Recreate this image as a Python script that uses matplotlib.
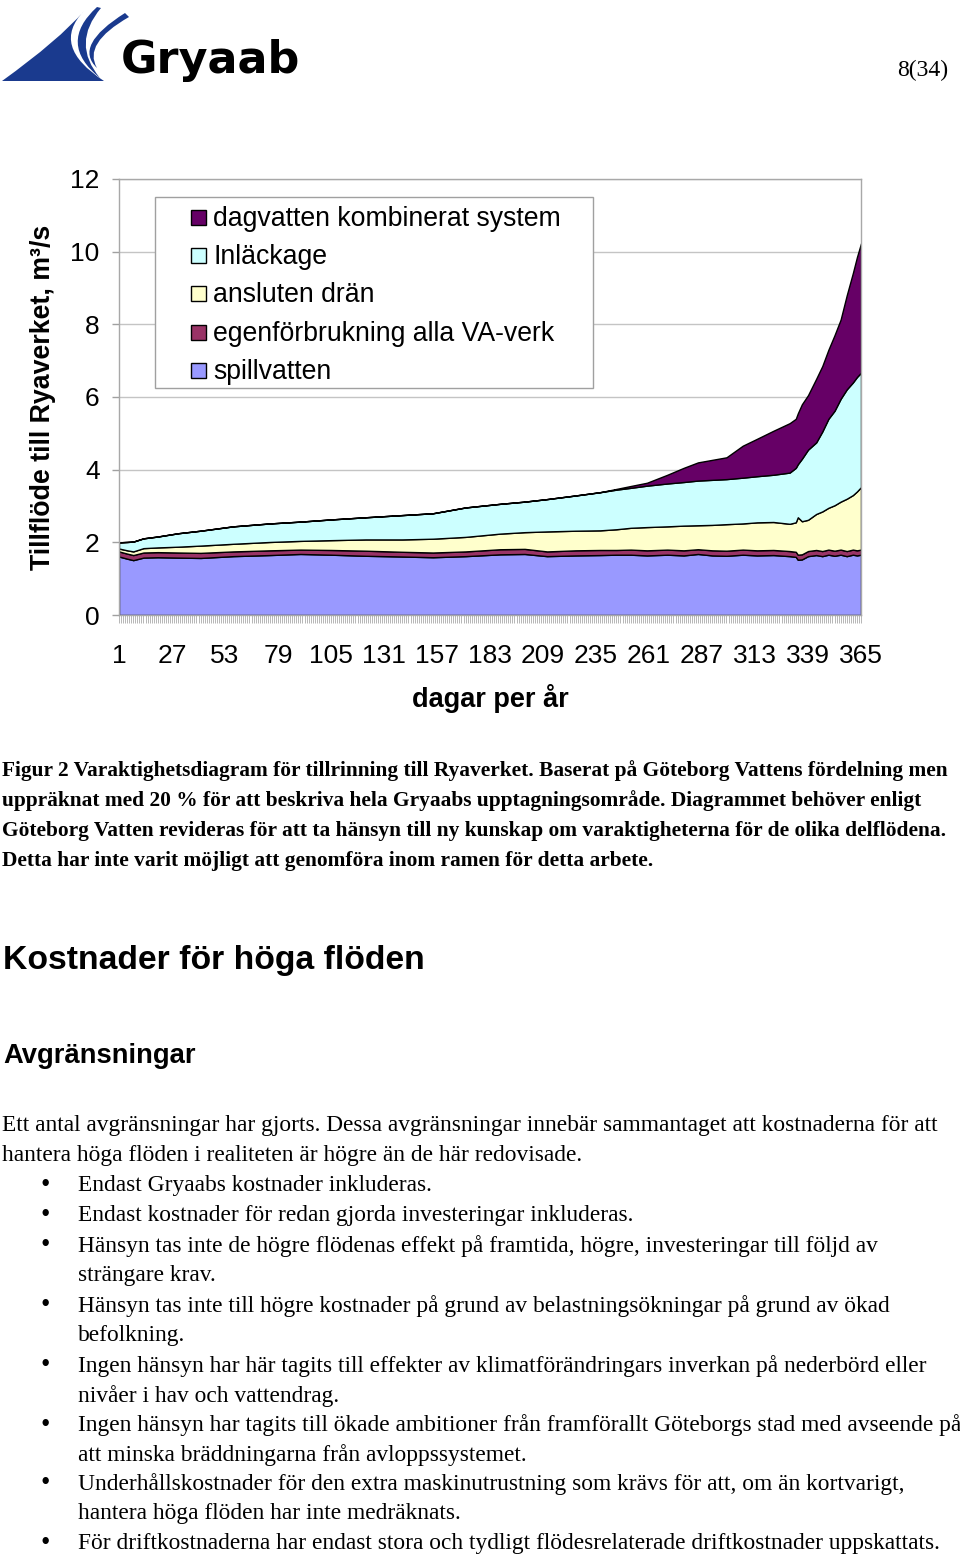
import matplotlib
matplotlib.use('Agg')
import matplotlib.pyplot as plt
from matplotlib.patches import Rectangle, PathPatch
from matplotlib.path import Path

# ---------------- data ----------------
days = [1, 5, 8, 13, 20, 30, 41, 57, 75, 90, 105, 122, 140, 155, 171, 188, 200,
        211, 225, 237, 245, 252, 260, 270, 278, 285, 292, 299, 307, 314, 322, 330,
        333, 334, 336, 339, 343, 346, 349, 352, 355, 358, 361, 363, 365]
spillvatten = [1.61, 1.55, 1.51, 1.58, 1.59, 1.58, 1.57, 1.62, 1.65, 1.68, 1.66, 1.63, 1.61,
               1.59, 1.62, 1.67, 1.68, 1.62, 1.64, 1.65, 1.66, 1.66, 1.64, 1.66, 1.64, 1.68,
               1.64, 1.63, 1.66, 1.64, 1.65, 1.62, 1.60, 1.52, 1.53, 1.62, 1.65, 1.62, 1.66,
               1.63, 1.66, 1.62, 1.66, 1.64, 1.66]
egenforbrukning = [0.14, 0.14, 0.14, 0.14, 0.14, 0.14, 0.14, 0.13, 0.13, 0.12, 0.13, 0.14, 0.13,
                   0.13, 0.13, 0.14, 0.14, 0.13, 0.14, 0.14, 0.13, 0.14, 0.14, 0.14, 0.14, 0.13,
                   0.14, 0.14, 0.14, 0.14, 0.14, 0.14, 0.14, 0.14, 0.14, 0.14, 0.14, 0.14, 0.14,
                   0.14, 0.14, 0.14, 0.14, 0.14, 0.14]
ansluten_dran = [0.08, 0.09, 0.10, 0.12, 0.13, 0.16, 0.20, 0.21, 0.23, 0.24, 0.27, 0.31, 0.34,
                 0.38, 0.40, 0.43, 0.46, 0.55, 0.54, 0.54, 0.57, 0.60, 0.64, 0.64, 0.68, 0.66,
                 0.70, 0.73, 0.72, 0.77, 0.77, 0.75, 0.81, 1.03, 0.91, 0.86, 0.99, 1.09, 1.15,
                 1.25, 1.32, 1.44, 1.50, 1.62, 1.72]
inlackage = [0.17, 0.23, 0.27, 0.27, 0.30, 0.37, 0.41, 0.48, 0.51, 0.53, 0.57, 0.61, 0.67,
             0.70, 0.81, 0.82, 0.84, 0.89, 0.97, 1.05, 1.09, 1.10, 1.14, 1.18, 1.20, 1.23,
             1.24, 1.24, 1.26, 1.27, 1.30, 1.41, 1.50, 1.46, 1.72, 1.93, 1.97, 2.20, 2.45,
             2.60, 2.83, 3.01, 3.10, 3.15, 3.15]
dagvatten = [0, 0, 0, 0, 0, 0, 0, 0, 0, 0, 0, 0, 0, 0, 0, 0, 0, 0, 0, 0,
             0.02, 0.05, 0.08, 0.24, 0.39, 0.50, 0.55, 0.60, 0.88, 1.03, 1.21, 1.36,
             1.35, 1.40, 1.50, 1.50, 1.75, 1.80, 1.90, 2.08, 2.18, 2.59, 3.01, 3.30, 3.56]

series_names = ['spillvatten', 'egenförbrukning alla VA-verk', 'ansluten drän',
                'Inläckage', 'dagvatten kombinerat system']
series_colors = ['#9999FF', '#993366', '#FFFFCC', '#CCFFFF', '#660066']
y_ticks = [0, 2, 4, 6, 8, 10, 12]
x_ticks = list(range(1, 366, 26))
y_label = 'Tillflöde till Ryaverket, m³/s'
x_label = 'dagar per år'

caption_lines = [
    'Figur 2 Varaktighetsdiagram för tillrinning till Ryaverket. Baserat på Göteborg Vattens fördelning men',
    'uppräknat med 20 % för att beskriva hela Gryaabs upptagningsområde. Diagrammet behöver enligt',
    'Göteborg Vatten revideras för att ta hänsyn till ny kunskap om varaktigheterna för de olika delflödena.',
    'Detta har inte varit möjligt att genomföra inom ramen för detta arbete.',
]
heading1 = 'Kostnader för höga flöden'
heading2 = 'Avgränsningar'
# (bullet?, text)
body_lines = [
    (False, 'Ett antal avgränsningar har gjorts. Dessa avgränsningar innebär sammantaget att kostnaderna för att'),
    (False, 'hantera höga flöden i realiteten är högre än de här redovisade.'),
    (True, 'Endast Gryaabs kostnader inkluderas.'),
    (True, 'Endast kostnader för redan gjorda investeringar inkluderas.'),
    (True, 'Hänsyn tas inte de högre flödenas effekt på framtida, högre, investeringar till följd av'),
    (None, 'strängare krav.'),
    (True, 'Hänsyn tas inte till högre kostnader på grund av belastningsökningar på grund av ökad'),
    (None, 'befolkning.'),
    (True, 'Ingen hänsyn har här tagits till effekter av klimatförändringars inverkan på nederbörd eller'),
    (None, 'nivåer i hav och vattendrag.'),
    (True, 'Ingen hänsyn har tagits till ökade ambitioner från framförallt Göteborgs stad med avseende på'),
    (None, 'att minska bräddningarna från avloppssystemet.'),
    (True, 'Underhållskostnader för den extra maskinutrustning som krävs för att, om än kortvarigt,'),
    (None, 'hantera höga flöden har inte medräknats.'),
    (True, 'För driftkostnaderna har endast stora och tydligt flödesrelaterade driftkostnader uppskattats.'),
]
page_no = '8(34)'
logo_text = 'Gryaab'

# ---------------- figure ----------------
W, H = 960, 1555
fig = plt.figure(figsize=(W / 100, H / 100), dpi=100)
fig.patch.set_facecolor('white')
renderer = fig.canvas.get_renderer()
SANS = 'Liberation Sans'
SERIF = 'Liberation Serif'


def fx(x):
    return x / W


def fy(y):
    return 1 - y / H


def size_for(s, target, family, weight='normal', rotation=0):
    t = fig.text(0, 0, s, family=family, weight=weight, fontsize=20, rotation=rotation)
    bb = t.get_window_extent(renderer)
    t.remove()
    span = bb.height if rotation else bb.width
    return 20 * target / span


# ---------------- chart ----------------
ax = fig.add_axes([fx(119), fy(615), 742 / W, 436 / H])
ax.stackplot(days, spillvatten, egenforbrukning, ansluten_dran, inlackage, dagvatten,
             colors=series_colors, edgecolor='black', linewidth=1.0)
ax.set_xlim(1, 365)
ax.set_ylim(0, 12)
ax.set_yticks(y_ticks)
ax.set_xticks(x_ticks)
ax.set_xticks(range(1, 366), minor=True)
ax.tick_params(axis='x', which='both', length=6, width=0.5, color='#9a9a9a', direction='out')
ax.tick_params(axis='x', which='major', labelsize=19, pad=15)
ax.tick_params(axis='y', length=5, width=1, color='#a0a0a0', labelsize=19, pad=9)
for lab in ax.get_xticklabels() + ax.get_yticklabels():
    lab.set_family(SANS)
ax.grid(axis='y', color='#c4c4c4', lw=1)
ax.set_axisbelow(True)
for sp in ax.spines.values():
    sp.set_color('#a8a8a8')
    sp.set_linewidth(1)

fs_ylab = size_for(y_label, 345, SANS, 'bold', rotation=90)
fig.text(fx(43), fy(397), y_label, rotation=90, ha='center', va='center',
         family=SANS, weight='bold', fontsize=fs_ylab)
fig.text(fx(490), fy(698), x_label, ha='center', va='center',
         family=SANS, weight='bold', fontsize=19.5)

# legend (drawn as figure artists on top of the chart)
fig.add_artist(Rectangle((fx(155), fy(388)), 438 / W, 191 / H, transform=fig.transFigure,
                         facecolor='white', edgecolor='#a0a0a0', lw=1, zorder=5))
fs_leg = size_for(series_names[4], 347, SANS)
rows = [217, 255, 293, 332, 370]
for row, name, col in zip(rows, series_names[::-1], series_colors[::-1]):
    fig.add_artist(Rectangle((fx(191), fy(row + 8)), 15 / W, 15 / H, transform=fig.transFigure,
                             facecolor=col, edgecolor='black', lw=1, zorder=6))
    fig.text(fx(213), fy(row + 2), name, ha='left', va='center', family=SANS,
             fontsize=fs_leg, zorder=6)

# ---------------- logo ----------------
lax = fig.add_axes([0, fy(100), 320 / W, 100 / H])
lax.set_xlim(0, 320)
lax.set_ylim(100, 0)
lax.axis('off')
blue = '#1a3a8e'
M, C3, L, CL = Path.MOVETO, Path.CURVE3, Path.LINETO, Path.CLOSEPOLY
shapes = [
    [(2, 81), (59, 40), (84, 11), (50, 46), (104, 81), (2, 81), (2, 81)],
    [(97, 7), (57, 43.5), (100, 78), (71, 43.5), (101, 8), (97, 7), (97, 7)],
    [(125, 13), (73, 45.5), (97, 68), (82.5, 43.5), (129, 17), (125, 13), (125, 13)],
]
codes = [M, C3, C3, C3, C3, L, CL]
for verts in shapes:
    lax.add_patch(PathPatch(Path(verts, codes), facecolor=blue, edgecolor='none'))
fig.text(fx(121), fy(73), logo_text, ha='left', va='baseline', family='DejaVu Sans',
         weight='bold', fontsize=32, color='black')

fig.text(fx(948), fy(70), page_no, ha='right', va='center', family=SERIF,
         fontsize=size_for(page_no, 51, SERIF))

# ---------------- text ----------------
fs_cap = size_for(caption_lines[0], 944, SERIF, 'bold')
for i, line in enumerate(caption_lines):
    fig.text(fx(2), fy(771 + 30 * i), line, ha='left', va='center', family=SERIF,
             weight='bold', fontsize=fs_cap)

fig.text(fx(3), fy(960), heading1, ha='left', va='center', family=SANS, weight='bold',
         fontsize=size_for(heading1, 422, SANS, 'bold'))
fig.text(fx(3), fy(1056), heading2, ha='left', va='center', family=SANS, weight='bold',
         fontsize=size_for(heading2, 192, SANS, 'bold'))

fs_body = size_for(body_lines[0][1], 932, SERIF)
body_y = [1124, 1154, 1184, 1214, 1244, 1274, 1304, 1334, 1364, 1394, 1423, 1453, 1482, 1512, 1541]
for yy, (bul, line) in zip(body_y, body_lines):
    yy = yy + 2
    if bul is False:
        fig.text(fx(2), fy(yy), line, ha='left', va='center', family=SERIF, fontsize=fs_body)
    else:
        if bul:
            fig.text(fx(45), fy(yy), '•', ha='center', va='center', family=SERIF,
                     fontsize=fs_body * 1.15)
        fig.text(fx(78), fy(yy), line, ha='left', va='center', family=SERIF, fontsize=fs_body)

fig.savefig('out.png', dpi=100, facecolor='white')
